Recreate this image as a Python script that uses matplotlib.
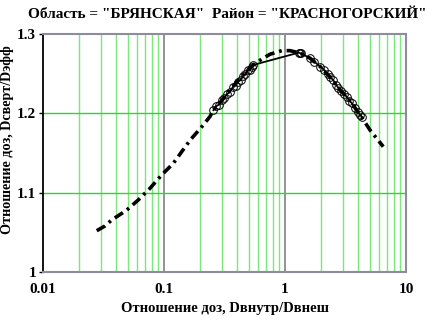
import matplotlib.pyplot as plt
from matplotlib.ticker import FixedLocator, NullFormatter

# кривая (штрих-пунктир)
curve_x = [0.0278, 0.0325, 0.037, 0.0492, 0.0613, 0.0766, 0.0957, 0.1194, 0.164, 0.205,
           0.240, 0.256, 0.30, 0.40, 0.547, 0.641, 0.752, 0.94, 1.1, 1.33,
           1.61, 1.95, 2.35, 2.76, 3.23, 3.56, 4.17, 5.04, 5.71, 6.49]
curve_y = [1.052, 1.058, 1.0656, 1.078, 1.0908, 1.1055, 1.1223, 1.137, 1.166, 1.183,
           1.196, 1.204, 1.216, 1.240, 1.261, 1.2682, 1.2745, 1.279, 1.279, 1.276,
           1.2695, 1.259, 1.246, 1.2316, 1.221, 1.2127, 1.198, 1.179, 1.1686, 1.158]

# точки (кружки)
pts_x = [0.256, 0.27, 0.285, 0.30, 0.315, 0.33, 0.35, 0.37, 0.39, 0.41, 0.43, 0.45,
         0.47, 0.49, 0.51, 0.53, 0.547,
         1.30, 1.33, 1.36, 1.61, 1.75, 1.95, 2.1, 2.25, 2.35, 2.5, 2.65, 2.76, 2.9,
         3.05, 3.23, 3.4, 3.56, 3.8, 4.0, 4.17, 4.3]
pts_y = [1.204, 1.209, 1.211, 1.217, 1.219, 1.224, 1.227, 1.233, 1.235, 1.240, 1.242, 1.247,
         1.249, 1.254, 1.255, 1.259, 1.261,
         1.2765, 1.276, 1.2755, 1.2695, 1.265, 1.259, 1.255, 1.249, 1.246, 1.242, 1.236, 1.232, 1.228,
         1.225, 1.221, 1.216, 1.213, 1.207, 1.202, 1.198, 1.196]

x_ticks = [0.01, 0.1, 1, 10]
x_labels = ['0.01', '0.1', '1', '10']
y_ticks = [1.0, 1.1, 1.2, 1.3]
y_labels = ['1', '1.1', '1.2', '1.3']

plt.rcParams['font.family'] = ['Liberation Serif', 'DejaVu Serif']
plt.rcParams['lines.scale_dashes'] = False

fig = plt.figure(figsize=(4.36, 3.2), dpi=100)
ax = fig.add_axes([43 / 436, 48 / 320, 363 / 436, 238 / 320])

ax.set_xscale('log')
ax.set_xlim(0.01, 10)
ax.set_ylim(1.0, 1.3)

# сетка
minor = [m * 10.0 ** d for d in (-2, -1, 0) for m in range(2, 10)]
for v in minor:
    ax.axvline(v, color='#7ce87c', lw=1.0, zorder=1)
for v in (0.1, 1):
    ax.axvline(v, color='#808080', lw=1.2, zorder=1)
for v in (1.1, 1.2):
    ax.axhline(v, color='#22dd22', lw=1.0, zorder=1)

ax.plot(curve_x, curve_y, color='black', lw=2.6, dashes=(7, 3.5, 2, 3.5), zorder=3)
ax.plot(pts_x, pts_y, color='black', lw=1.3, marker='o', ms=5.5, mfc='none',
        mec='black', mew=0.7, zorder=4)

ax.xaxis.set_major_locator(FixedLocator(x_ticks))
ax.set_xticklabels(x_labels)
ax.xaxis.set_minor_formatter(NullFormatter())
ax.tick_params(axis='x', which='both', length=0, pad=8)
ax.set_yticks(y_ticks)
ax.set_yticklabels(y_labels)
ax.tick_params(axis='y', length=3, width=1, color='black', pad=2)
ax.tick_params(labelsize=11)
for lab in ax.get_xticklabels() + ax.get_yticklabels():
    lab.set_fontweight('bold')

for s in ('top', 'right', 'bottom'):
    ax.spines[s].set_color('#8c8c9c')
    ax.spines[s].set_linewidth(1.5)
ax.spines['left'].set_color('black')
ax.spines['left'].set_linewidth(1.3)

ax.set_xlabel('Отношение доз, Dвнутр/Dвнеш', fontsize=10.5, fontweight='bold')
ax.set_ylabel('Отношение доз, Dсверт/Dэфф', fontsize=10.2, fontweight='bold')
ax.xaxis.set_label_coords(0.5, -0.125)
ax.yaxis.set_label_coords(-0.080, 0.555)
fig.text(0.522, 0.975, 'Область = "БРЯНСКАЯ"  Район = "КРАСНОГОРСКИЙ"',
         ha='center', va='top', fontsize=11, fontweight='bold')

fig.savefig('out.png', dpi=100)
